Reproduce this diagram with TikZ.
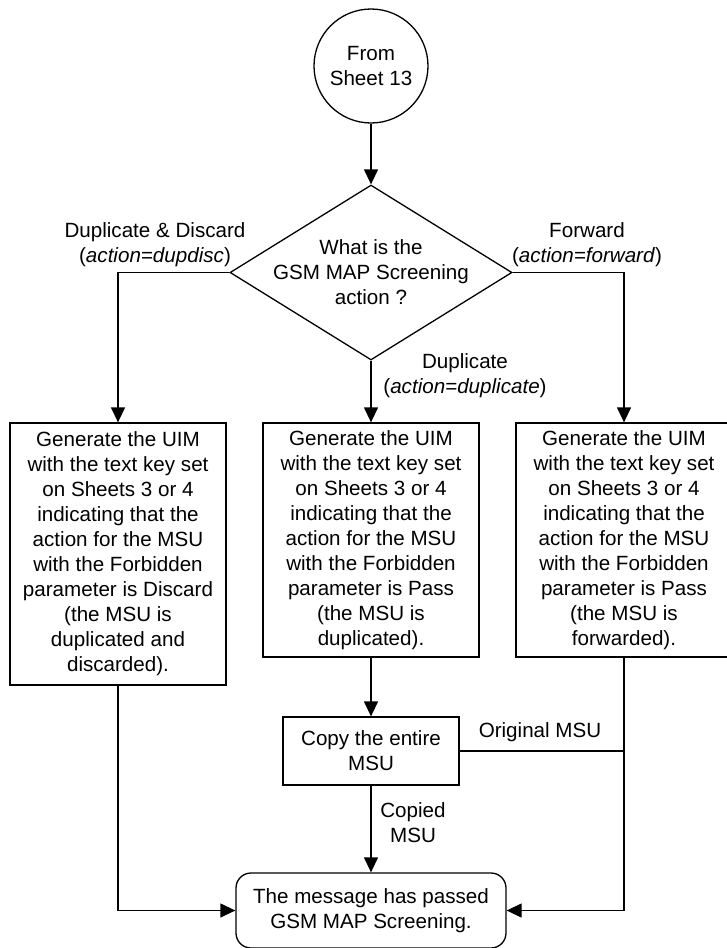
\documentclass[tikz,border=0pt]{standalone}
\usepackage{fontspec}
\setmainfont{Liberation Sans}
\usetikzlibrary{shapes.geometric,arrows.meta}
\begin{document}
\begin{tikzpicture}[x=1pt,y=-1pt,
  every node/.style={font=\fontsize{20.6}{25}\selectfont},
  stepbox/.style={draw, line width=1.3pt, align=center, inner sep=0pt},
  conn/.style={line width=1.3pt, -{Triangle[length=15pt,width=14pt]}},
  plainline/.style={line width=1.3pt},
  lbl/.style={align=center, inner sep=0pt}]
\useasboundingbox (0,0) rectangle (726,948);
\node[circle, draw, line width=1.3pt, minimum size=114pt, inner sep=0pt, align=center] (start) at (371,66) {From\\Sheet 13};
\node[diamond, draw, line width=1.3pt, minimum width=282pt, minimum height=175pt, inner sep=0pt] (dia) at (371,272.5) {};
\node[lbl] (q) at (371,272) {What is the\\GSM MAP Screening\\action ?};
\node[stepbox, minimum width=216pt, minimum height=262pt] (left) at (118,554) {Generate the UIM\\with the text key set\\on Sheets 3 or 4\\indicating that the\\action for the MSU\\with the Forbidden\\parameter is Discard\\(the MSU is\\duplicated and\\discarded).};
\node[stepbox, minimum width=216pt, minimum height=234pt] (mid) at (371,540) {Generate the UIM\\with the text key set\\on Sheets 3 or 4\\indicating that the\\action for the MSU\\with the Forbidden\\parameter is Pass\\(the MSU is\\duplicated).};
\node[stepbox, minimum width=216pt, minimum height=234pt] (right) at (624,540) {Generate the UIM\\with the text key set\\on Sheets 3 or 4\\indicating that the\\action for the MSU\\with the Forbidden\\parameter is Pass\\(the MSU is\\forwarded).};
\node[stepbox, minimum width=176pt, minimum height=68pt] (copy) at (371,751) {Copy the entire\\MSU};
\node[stepbox, rounded corners=15pt, minimum width=270pt, minimum height=75pt] (end) at (371,910.5) {The message has passed\\GSM MAP Screening.};
\draw[conn] (start) -- (dia.north);
\draw[conn] (dia.west) -| (left.north);
\draw[conn] (dia.east) -| (right.north);
\draw[conn] (dia.south) -- (mid.north);
\draw[conn] (mid.south) -- (copy.north);
\draw[conn] (copy.south) -- (end.north);
\draw[conn] (left.south) |- (end.west);
\draw[conn] (right.south) |- (end.east);
\draw[plainline] (copy.east) -- (copy.east -| right.south);
\node[lbl] (l1) at (155,244.5) {Duplicate \& Discard\\(\textit{action=dupdisc})};
\node[lbl] (l2) at (587,244.5) {Forward\\(\textit{action=forward})};
\node[lbl] (l3) at (465,375.5) {Duplicate\\(\textit{action=duplicate})};
\node[lbl] (l4) at (540,732) {Original MSU};
\node[lbl] (l5) at (413,823) {Copied\\MSU};
\end{tikzpicture}
\end{document}
